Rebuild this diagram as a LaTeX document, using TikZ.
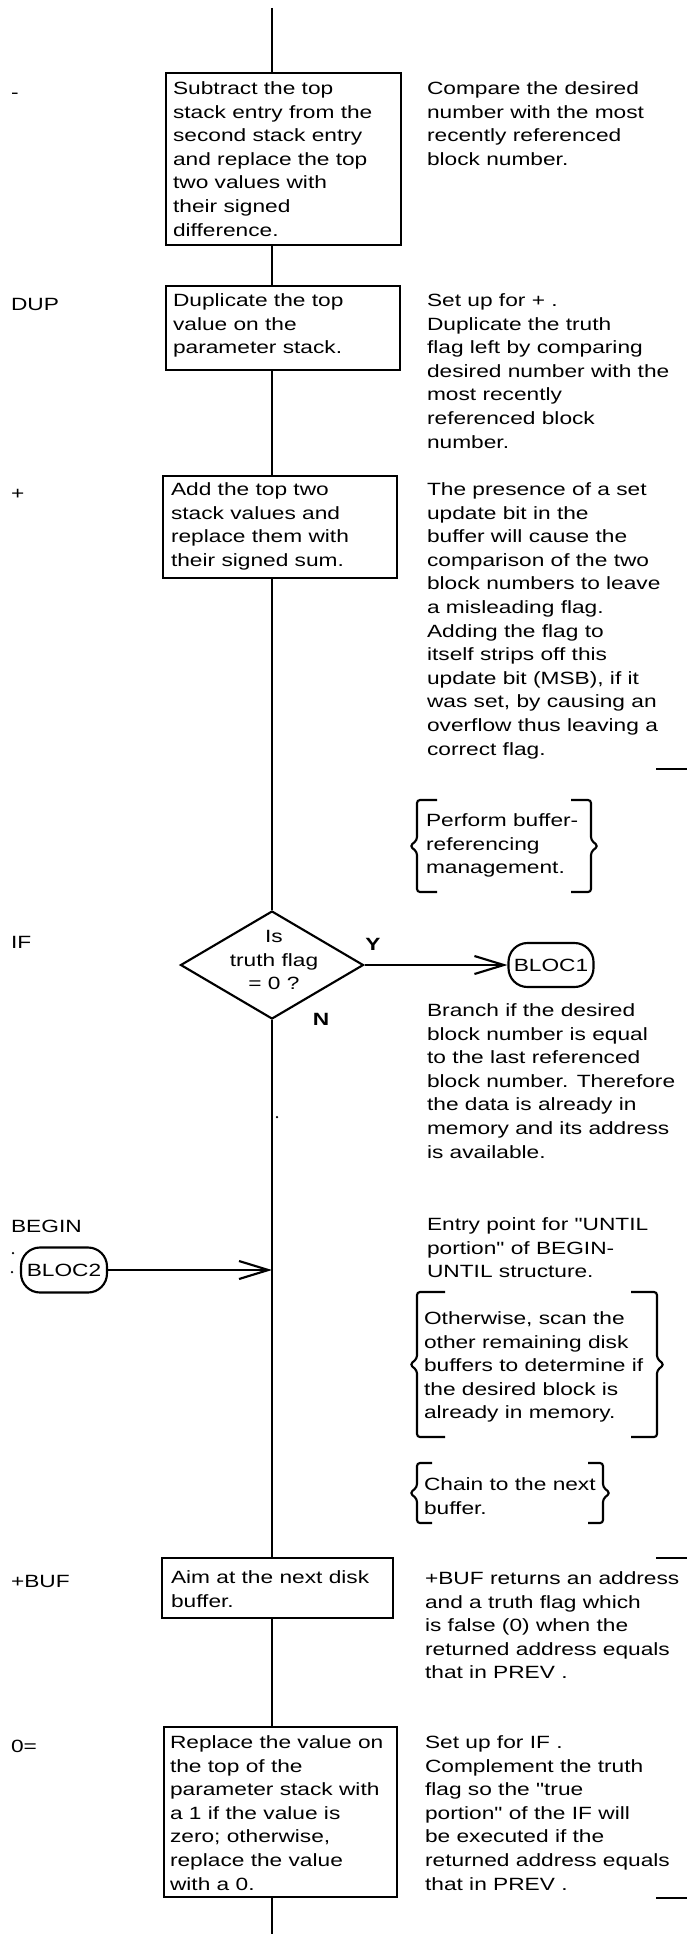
\documentclass[tikz,border=0pt]{standalone}
\usepackage{fontspec}
\setmainfont{Liberation Sans}[FakeStretch=1.28,Ligatures=TeXOff]
\usetikzlibrary{arrows.meta,fit,shapes.geometric}
\newdimen\PX \PX=0.75pt
\newcommand\fs{\fontsize{13.3pt}{17.7pt}\selectfont}
\newcommand\bracebox[6]{%
  \pgfmathsetmacro\bmid{(#3+#4)/2}%
  \draw[brace] (#1+#5,#3) -- (#1,#3) -- (#1,\bmid-6) -- (#1-7,\bmid) -- (#1,\bmid+6) -- (#1,#4) -- (#1+#5,#4);
  \draw[brace] (#2-#6,#3) -- (#2,#3) -- (#2,\bmid-6) -- (#2+7,\bmid) -- (#2,\bmid+6) -- (#2,#4) -- (#2-#6,#4);
}
\begin{document}
\begin{tikzpicture}[x=0.75pt,y=-0.75pt,line width=1.6pt,
  box/.style={draw,inner sep=0pt,line width=1.6pt},
  txt/.style={inner sep=0pt,anchor=north west,align=left,font=\fs,execute at begin node=\strut},
  ctxt/.style={inner sep=0pt,anchor=north,align=center,font=\fs,execute at begin node=\strut},
  term/.style={draw,rounded corners=19\PX,inner sep=0pt,font=\fs,minimum width=85\PX,minimum height=44\PX},
  arr/.style={-{Straight Barb[length=22pt,width=13.5pt]}},
  brace/.style={line width=1.6pt,rounded corners=3\PX},
  yn/.style={font=\fs\bfseries,inner sep=0pt,anchor=base},
  dec/.style={fill,circle,inner sep=0pt,minimum size=2.5\PX}
]
\fill[white] (0,0) rectangle (687,1934);
\useasboundingbox (0,0) rectangle (687,1934);

% main line ends
\coordinate (top) at (272,8);
\coordinate (bot) at (272,1934);

% boxes
\node[box,fit={(166,73) (401,245)}] (b1) {};
\node[box,fit={(166,286) (400,370)}] (b2) {};
\node[box,fit={(163,476) (397,578)}] (b3) {};
\node[draw,diamond,minimum width=183\PX,minimum height=108\PX,inner sep=0pt] (dia) at (272,965) {};
\node[box,fit={(162,1558) (393,1618)}] (b4) {};
\node[box,fit={(164,1727) (397,1897)}] (b5) {};

\node[term] (bloc1) at (551,965) {BLOC1};
\node[term,minimum width=86\PX,minimum height=45\PX] (bloc2) at (64,1270) {BLOC2};

% flow line
\draw (top) -- (top |- b1.north);
\draw (b1.south -| top) -- (b2.north -| top);
\draw (b2.south -| top) -- (b3.north -| top);
\draw (b3.south -| top) -- (dia.north);
\draw (dia.south) -- (b4.north -| top);
\draw (b4.south -| top) -- (b5.north -| top);
\draw (b5.south -| top) -- (bot);

\draw[arr] (dia.east) -- (bloc1.west);
\draw[arr] (bloc2.east) -- (bloc2.east -| top);

\node[yn] (ylab) at (373,950) {Y};
\node[yn] (nlab) at (321,1025) {N};

% left labels
\node[txt] (l1) at (10,80.5) {-};
\node[txt] (l2) at (10,292.5) {DUP};
\node[txt] (l3) at (10,481.5) {+};
\node[txt] (l4) at (10,931) {IF};
\node[txt] (l5) at (10,1214.5) {BEGIN};
\node[txt] (l6) at (10,1569.5) {+BUF};
\node[txt] (l7) at (10,1734.5) {0=};
\node[dec] (d1) at (13,1253) {};
\node[dec] (d2) at (12,1272) {};
\node[dec] (d3) at (277,1117) {};

% box texts
\node[txt] (b1t) at (172,80.5) {Subtract the top\\stack entry from the\\second stack entry\\and replace the top\\two values with\\their signed\\difference.};
\node[txt] (b2t) at (172,292.5) {Duplicate the top\\value on the\\parameter stack.};
\node[txt] (b3t) at (170,481.5) {Add the top two\\stack values and\\replace them with\\their signed sum.};
\node[ctxt] (diat) at (274,929.5) {Is\\truth flag\\= 0 ?};
\node[txt] (b4t) at (170,1569.5) {Aim at the next disk\\buffer.};
\node[txt] (b5t) at (169,1734.5) {Replace the value on\\the top of the\\parameter stack with\\a 1 if the value is\\zero; otherwise,\\replace the value\\with a 0.};

% right column
\node[txt] (r1) at (426,80.5) {Compare the desired\\number with the most\\recently referenced\\block number.};
\node[txt] (r2) at (426,292.5) {Set up for + .\\Duplicate the truth\\flag left by comparing\\desired number with the\\most recently\\referenced block\\number.};
\node[txt] (r3) at (426,481.5) {The presence of a set\\update bit in the\\buffer will cause the\\comparison of the two\\block numbers to leave\\a misleading flag.\\Adding the flag to\\itself strips off this\\update bit (MSB), if it\\was set, by causing an\\overflow thus leaving a\\correct flag.};
\node[txt] (bb1) at (425,812.5) {Perform buffer-\\referencing\\management.};
\node[txt] (r4) at (426,1002.5) {Branch if the desired\\block number is equal\\to the last referenced\\block number. Therefore\\the data is already in\\memory and its address\\is available.};
\node[txt] (r5) at (426,1216.5) {Entry point for "UNTIL\\portion" of BEGIN-\\UNTIL structure.};
\node[txt] (bb2) at (423,1310.5) {Otherwise, scan the\\other remaining disk\\buffers to determine if\\the desired block is\\already in memory.};
\node[txt] (bb3) at (423,1476.5) {Chain to the next\\buffer.};
\node[txt] (r6) at (424,1570.5) {+BUF returns an address\\and a truth flag which\\is false (0) when the\\returned address equals\\that in PREV .};
\node[txt] (r7) at (424,1734.5) {Set up for IF .\\Complement the truth\\flag so the "true\\portion" of the IF will\\be executed if the\\returned address equals\\that in PREV .};

% braces
\bracebox{417}{591}{800}{892}{20}{20}
\bracebox{417}{657}{1292}{1437}{28}{26}
\bracebox{417}{603}{1463}{1523}{15}{15}

% margin marks
\coordinate (m1a) at (656,769);  \coordinate (m1b) at (687,769);
\coordinate (m2a) at (656,1558); \coordinate (m2b) at (687,1558);
\coordinate (m3a) at (656,1898); \coordinate (m3b) at (687,1898);
\draw (m1a) -- (m1b);
\draw (m2a) -- (m2b);
\draw (m3a) -- (m3b);
\end{tikzpicture}
\end{document}
